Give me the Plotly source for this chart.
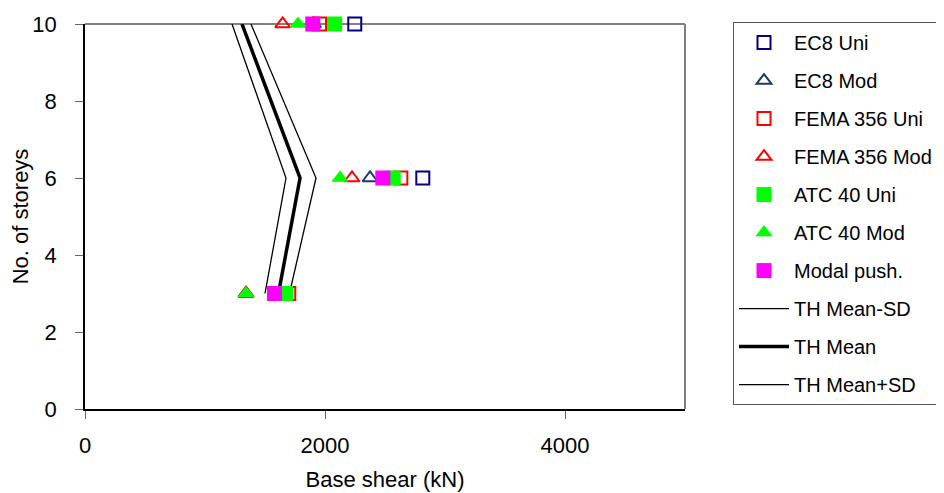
import plotly.graph_objects as go

storeys = [3, 6, 10]
ec8_uni = [1633, 2815, 2248]
ec8_mod = [1342, 2375, 1905]
fema_uni = [1698, 2632, 1954]
fema_mod = [1342, 2225, 1647]
atc_uni = [1671, 2568, 2079]
atc_mod = [1342, 2125, 1775]
modal_push = [1579, 2482, 1898]
th_mean_minus_sd = [1500, 1675, 1225]
th_mean = [1612, 1792, 1308]
th_mean_plus_sd = [1704, 1925, 1383]

FONT = "Liberation Sans, Arial, sans-serif"

fig = go.Figure()

# lines first (drawn beneath markers), ranked last in legend
for rank, (name, xs, w) in enumerate([("TH Mean-SD", th_mean_minus_sd, 1.3),
                                      ("TH Mean", th_mean, 3.5),
                                      ("TH Mean+SD", th_mean_plus_sd, 1.3)]):
    fig.add_trace(go.Scatter(x=xs, y=storeys, mode="lines", name=name,
                             line=dict(color="black", width=w), legendgroup=name,
                             legendrank=100 + rank))

def mk(rank, name, xs, symbol, color, filled):
    if filled:
        marker = dict(symbol=symbol, size=15, color=color, line=dict(width=0))
    else:
        marker = dict(symbol=symbol + "-open", size=13, color=color,
                      line=dict(width=2, color=color))
    fig.add_trace(go.Scatter(x=xs, y=storeys, mode="markers", name=name, marker=marker,
                             cliponaxis=False, legendgroup=name, legendrank=rank))

mk(1, "EC8 Uni", ec8_uni, "square", "#000080", False)
mk(2, "EC8 Mod", ec8_mod, "triangle-up", "#1a3a6e", False)
mk(3, "FEMA 356 Uni", fema_uni, "square", "#ff0000", False)
mk(4, "FEMA 356 Mod", fema_mod, "triangle-up", "#ff0000", False)
mk(5, "ATC 40 Uni", atc_uni, "square", "#00ff00", True)
mk(6, "ATC 40 Mod", atc_mod, "triangle-up", "#00ff00", True)
mk(7, "Modal push.", modal_push, "square", "#ff00ff", True)

fig.update_layout(
    width=936, height=485,
    margin=dict(l=77, r=259, t=16, b=84, autoexpand=False),
    paper_bgcolor="white", plot_bgcolor="white",
    font=dict(family=FONT, color="black", size=20),
    showlegend=True,
    legend=dict(
        x=1.08, y=1.005, xanchor="left", yanchor="top",
        bordercolor="#555555", borderwidth=1, bgcolor="white",
        font=dict(family=FONT, size=20, color="black"),
        traceorder="grouped", tracegroupgap=9, itemwidth=50,
        itemsizing="trace", maxheight=470,
    ),
)

fig.update_xaxes(
    range=[0, 5000], tickvals=[0, 2000, 4000], ticktext=["0", "2000", "4000"],
    showgrid=False, zeroline=False, showline=True, linecolor="black", linewidth=1.5,
    ticks="outside", ticklen=8, tickcolor="#666666", ticklabelstandoff=8,
    tickfont=dict(family=FONT, size=22),
    title=dict(text="Base shear (kN)", font=dict(family=FONT, size=22), standoff=14),
)
fig.update_yaxes(
    range=[0, 10], tickvals=[0, 2, 4, 6, 8, 10],
    showgrid=False, zeroline=False, showline=True, linecolor="black", linewidth=1.5,
    ticks="outside", ticklen=8, tickcolor="#666666", ticklabelstandoff=14,
    tickfont=dict(family=FONT, size=22),
    title=dict(text="No. of storeys", font=dict(family=FONT, size=22), standoff=14),
)

fig.add_shape(type="line", xref="paper", yref="paper", x0=0, x1=1, y0=1, y1=1,
              line=dict(color="#808080", width=2), layer="below")
fig.add_shape(type="line", xref="paper", yref="paper", x0=1, x1=1, y0=0, y1=1,
              line=dict(color="#808080", width=2), layer="below")

fig.write_html("out.html")
